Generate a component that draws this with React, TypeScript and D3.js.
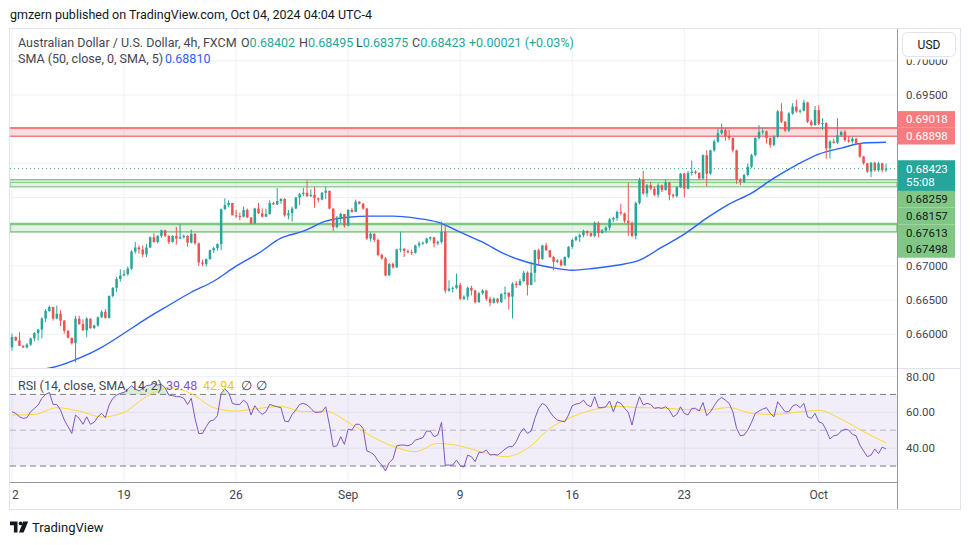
import * as d3 from 'd3';

// AUD/USD 4h candles, prices in pips (x 0.0001); open of each bar = previous close
const firstOpen = 6581;
const closes = [
  6596, 6591, 6583, 6581, 6585, 6594, 6602, 6607, 6623, 6634, 6640, 6623, 6630, 6620, 6605, 6595, 6587, 6623, 6615, 6606,
  6623, 6609, 6613, 6625, 6633, 6624, 6656, 6668, 6681, 6686, 6688, 6696, 6721, 6727, 6724, 6717, 6727, 6742, 6735, 6744,
  6752, 6744, 6735, 6744, 6740, 6742, 6744, 6734, 6747, 6733, 6705, 6703, 6710, 6723, 6726, 6732, 6783, 6789, 6792, 6774,
  6773, 6772, 6782, 6771, 6762, 6784, 6777, 6772, 6776, 6792, 6790, 6795, 6798, 6774, 6777, 6784, 6800, 6805, 6807, 6802,
  6804, 6799, 6797, 6807, 6810, 6784, 6757, 6771, 6776, 6759, 6782, 6779, 6794, 6791, 6784, 6740, 6747, 6738, 6716, 6711,
  6686, 6703, 6698, 6724, 6725, 6722, 6720, 6719, 6730, 6733, 6734, 6740, 6742, 6733, 6735, 6750, 6664, 6667, 6668, 6672,
  6652, 6655, 6668, 6664, 6647, 6660, 6664, 6652, 6646, 6652, 6647, 6659, 6661, 6655, 6674, 6672, 6678, 6690, 6672, 6690,
  6723, 6710, 6730, 6723, 6713, 6706, 6708, 6701, 6713, 6728, 6738, 6742, 6745, 6751, 6748, 6744, 6763, 6748, 6752, 6756,
  6768, 6770, 6779, 6777, 6766, 6763, 6744, 6792, 6826, 6806, 6818, 6813, 6804, 6818, 6811, 6822, 6804, 6802, 6815, 6835,
  6813, 6836, 6838, 6836, 6828, 6862, 6835, 6869, 6882, 6894, 6899, 6890, 6887, 6869, 6826, 6823, 6833, 6845, 6862, 6887,
  6896, 6897, 6887, 6877, 6889, 6926, 6911, 6898, 6923, 6933, 6926, 6927, 6939, 6911, 6906, 6928, 6908, 6909, 6872, 6882,
  6880, 6891, 6896, 6884, 6882, 6886, 6879, 6860, 6850, 6838, 6851, 6840, 6850, 6840.2, 6842.3,
];
const highs = [
  6601, 6597, 6603, 6584, 6587, 6595, 6603, 6608, 6625, 6637, 6642, 6640, 6642, 6635, 6621, 6606, 6595, 6627, 6627, 6622,
  6625, 6623, 6614, 6626, 6635, 6637, 6657, 6669, 6684, 6695, 6694, 6699, 6723, 6735, 6730, 6730, 6732, 6743, 6748, 6745,
  6753, 6753, 6745, 6745, 6757, 6761, 6746, 6745, 6753, 6748, 6734, 6709, 6711, 6724, 6728, 6733, 6784, 6799, 6796, 6792,
  6782, 6778, 6787, 6784, 6771, 6785, 6792, 6784, 6784, 6796, 6794, 6814, 6799, 6799, 6782, 6787, 6801, 6807, 6814, 6825,
  6812, 6816, 6800, 6808, 6816, 6810, 6784, 6773, 6778, 6776, 6783, 6785, 6797, 6795, 6792, 6785, 6749, 6748, 6740, 6718,
  6713, 6704, 6705, 6725, 6750, 6726, 6724, 6724, 6731, 6736, 6736, 6741, 6743, 6742, 6737, 6765, 6760, 6679, 6670, 6689,
  6675, 6657, 6670, 6671, 6665, 6662, 6666, 6665, 6655, 6654, 6653, 6660, 6670, 6661, 6676, 6678, 6681, 6693, 6692, 6706,
  6724, 6725, 6731, 6734, 6723, 6715, 6710, 6710, 6714, 6729, 6740, 6744, 6747, 6753, 6752, 6749, 6765, 6765, 6754, 6758,
  6770, 6772, 6781, 6791, 6778, 6822, 6765, 6794, 6829, 6839, 6820, 6823, 6816, 6821, 6819, 6826, 6823, 6806, 6817, 6836,
  6836, 6839, 6854, 6840, 6837, 6863, 6869, 6870, 6885, 6901, 6908, 6901, 6899, 6888, 6870, 6828, 6835, 6850, 6864, 6889,
  6906, 6902, 6898, 6888, 6891, 6928, 6938, 6912, 6925, 6938, 6943, 6929, 6943, 6940, 6914, 6934, 6935, 6916, 6910, 6884,
  6886, 6916, 6898, 6899, 6890, 6889, 6887, 6880, 6861, 6851, 6852, 6852, 6852, 6851, 6849.5,
];
const lows = [
  6576, 6590, 6583, 6580, 6579, 6583, 6590, 6591, 6594, 6618, 6633, 6620, 6622, 6612, 6601, 6594, 6585, 6559, 6614, 6605,
  6596, 6608, 6608, 6611, 6624, 6623, 6623, 6654, 6662, 6677, 6685, 6686, 6694, 6718, 6718, 6713, 6713, 6726, 6734, 6733,
  6741, 6742, 6732, 6734, 6731, 6739, 6740, 6728, 6733, 6731, 6700, 6700, 6699, 6709, 6719, 6722, 6723, 6782, 6786, 6774,
  6770, 6767, 6771, 6770, 6761, 6762, 6776, 6771, 6772, 6775, 6789, 6789, 6791, 6772, 6768, 6765, 6783, 6789, 6802, 6801,
  6801, 6785, 6793, 6796, 6798, 6783, 6751, 6755, 6762, 6756, 6758, 6778, 6779, 6790, 6782, 6738, 6736, 6735, 6714, 6709,
  6685, 6686, 6696, 6697, 6720, 6713, 6718, 6716, 6718, 6727, 6731, 6732, 6737, 6727, 6730, 6733, 6660, 6662, 6661, 6666,
  6650, 6650, 6650, 6657, 6645, 6646, 6658, 6649, 6641, 6645, 6645, 6646, 6651, 6636, 6623, 6668, 6671, 6676, 6657, 6672,
  6676, 6703, 6709, 6722, 6712, 6694, 6704, 6699, 6700, 6711, 6725, 6736, 6735, 6742, 6744, 6742, 6742, 6742, 6747, 6749,
  6752, 6764, 6766, 6774, 6763, 6744, 6742, 6739, 6790, 6804, 6801, 6811, 6802, 6800, 6808, 6810, 6796, 6799, 6800, 6814,
  6800, 6812, 6832, 6834, 6826, 6826, 6816, 6833, 6867, 6880, 6892, 6883, 6884, 6866, 6820, 6818, 6821, 6831, 6843, 6860,
  6885, 6892, 6879, 6873, 6875, 6887, 6909, 6896, 6896, 6921, 6924, 6923, 6926, 6909, 6904, 6905, 6906, 6899, 6857, 6857,
  6879, 6878, 6889, 6882, 6880, 6879, 6877, 6858, 6848, 6836, 6830, 6838, 6838, 6837, 6837.5,
];

// RSI(14) per bar, its SMA(14) and SMA(50) of price sampled once per 6 bars
const rsi = [
  60.3, 59.4, 57.5, 56.6, 57, 60.3, 62.2, 64.1, 67.8, 70, 71.1, 64.4, 64.4, 61.3, 55.7, 52, 48.2, 58.5, 56.6, 53.3,
  57.5, 53.3, 54.4, 57.5, 59.4, 57, 64.1, 67.8, 69.6, 70.6, 71.1, 73, 74.9, 73, 71.9, 73.4, 74.9, 75.2, 76.2, 75.2,
  75.6, 73.7, 69.6, 69.3, 68.7, 68.7, 67.8, 64.4, 67.8, 56.6, 48.2, 48.2, 52, 55.1, 55.7, 58.1, 70.6, 73, 71.1, 65,
  64.4, 64.4, 66.8, 65, 58.5, 63.7, 60.7, 58.8, 60.3, 64.4, 63.7, 63.1, 62.6, 55.1, 54.7, 58.8, 61.3, 64.4, 65, 64.1,
  62.2, 60, 60, 60.3, 63.1, 52.9, 40.8, 41.3, 46.4, 42.1, 50.6, 50.1, 53.3, 53.3, 51, 38.4, 37.6, 36.1, 32.8, 30.5,
  27.2, 32, 33.9, 41.3, 41.7, 41.7, 41.3, 42.1, 44.5, 45.1, 45.8, 49.5, 49.5, 46.4, 47.3, 54.4, 30.5, 30.5, 30.5, 33.3,
  30.2, 29.4, 36.1, 35.2, 32.4, 37.6, 37.6, 38.9, 36.1, 36.5, 36.1, 37.6, 39.5, 40.8, 40.8, 43.6, 48.2, 51, 48.2, 49.5,
  56.6, 62.2, 65, 63.7, 60.3, 57.5, 55.7, 55.1, 54.7, 58.5, 63.7, 64.6, 65, 66.8, 64.1, 63.1, 68.7, 62.6, 62.6, 63.1,
  66.3, 60.3, 65.9, 65, 62.2, 60, 52.9, 62.2, 68.7, 64.1, 65, 64.4, 62.2, 62.6, 62.2, 63.1, 61.3, 57.5, 58.8, 63.1,
  59.4, 58.5, 62.2, 62.2, 60.7, 65.5, 58.1, 60.3, 63.7, 66.8, 68.3, 66.8, 65, 60.3, 51, 46.9, 47.3, 50.1, 54.4, 59.4,
  60.7, 61.8, 62.6, 59.4, 57.5, 65.9, 63.1, 60.3, 60.3, 63.5, 64.4, 62.6, 65, 57.5, 56.6, 59.4, 54.7, 53.8, 50.1, 45.1,
  46.9, 47.3, 49.5, 50.6, 50.1, 47.7, 46.9, 41.7, 38.4, 35.2, 36.1, 39.5, 36.9, 40.6, 39.48,
];
const rsiMa = [
  58.5, 58.8, 62.6, 60.7, 57.4, 60, 68.9, 73.7, 70.4, 62.6, 60.7, 62.2, 63.3, 60.3, 60.7, 54.4, 46.9, 41, 38, 42.6,
  41.2, 37.6, 35.2, 39.8, 51, 57.5, 61.6, 63.3, 62.6, 62.4, 61.6, 61.3, 62.7, 59.4, 58.8, 60, 61.1, 56.2, 49.2, 42.94,
];
const sma50 = [
  6547, 6553, 6565, 6581, 6601.5, 6623, 6642.5, 6661.5, 6677.6, 6699.6, 6718.6, 6740.6, 6750.8, 6765.5, 6771.3, 6772.8,
  6772.8, 6769.9, 6764, 6749.4, 6734.7, 6717.2, 6705.4, 6698.1, 6693.7, 6696.7, 6701, 6708.4, 6727.4, 6746.5, 6769.9,
  6790.4, 6806.5, 6828.5, 6847.5, 6863.6, 6872.4, 6879.7, 6881,
];

const resistance = [0.69018, 0.68898];
const support = [0.68259, 0.68157, 0.67613, 0.67498];
const countdown = '55:08';
const timeTicks: [string, number][] = [
  ['12', 0], ['19', 30], ['26', 60], ['Sep', 90], ['9', 120], ['16', 150], ['23', 180], ['Oct', 216],
];
const priceTicks = [0.66, 0.665, 0.67, 0.675, 0.68, 0.685, 0.69, 0.695, 0.7];
const rsiTicks = [80, 60, 40];

const UP = '#26a69a';
const DOWN = '#ef5350';
const GRID = '#eef1f6';
const TXT = '#434651';
const FONT = "Roboto, 'Liberation Sans', sans-serif";

export default function App() {
  const n = closes.length;
  const opens = [firstOpen, ...closes.slice(0, -1)];
  const bars = closes.map((c, i) => {
    const o = opens[i];
    return {
      i,
      o: o / 1e4,
      c: c / 1e4,
      h: Math.max(highs[i], o, c) / 1e4,
      l: Math.min(lows[i], o, c) / 1e4,
    };
  });
  const last = bars[n - 1];

  const L = 10, R = 897, PT = 28, PB = 368, RB = 482, FB = 509;
  const x = d3.scaleLinear().domain([0, n - 1]).range([12, 886]);
  const y = d3.scaleLinear().domain([0.66, 0.695]).range([334.3, 95]);
  const yr = d3.scaleLinear().domain([30, 70]).range([466, 394.4]);

  const f5 = d3.format('.5f');
  const change = last.c - last.o;
  const pct = (change / last.o) * 100;
  const lastCol = last.c >= last.o ? UP : DOWN;

  const smaLine = d3.line<number>().x((_, i) => x(6 + i * 6)).y(d => y(d / 1e4)).curve(d3.curveMonotoneX);
  const rsiLine = d3.line<number>().x((_, i) => x(i)).y(d => yr(d));
  const maLine = d3.line<number>().x((_, i) => x(i * 6)).y(d => yr(d)).curve(d3.curveMonotoneX);
  const obArea = d3.area<number>().x((_, i) => x(i)).y0(yr(70)).y1(d => yr(Math.max(d, 70)));
  const osArea = d3.area<number>().x((_, i) => x(i)).y0(yr(30)).y1(d => yr(Math.min(d, 30)));

  // price scale labels, stacked away from the current-price label
  const LH = 16.7;
  const cur = y(last.c);
  const curTop = cur - 8.4;
  const curBottom = curTop + 30.7;
  const redLabels: { v: number; cy: number }[] = [];
  let limit = curTop;
  [...resistance].sort((a, b) => a - b).forEach(v => {
    const cy = Math.min(y(v), limit - LH / 2);
    redLabels.push({ v, cy });
    limit = cy - LH / 2;
  });
  const greenLabels: { v: number; cy: number }[] = [];
  let floor = curBottom;
  [...support].sort((a, b) => b - a).forEach(v => {
    const cy = Math.max(y(v), floor + LH / 2);
    greenLabels.push({ v, cy });
    floor = cy + LH / 2;
  });
  const boxes = [
    [limit, curTop],
    [curTop, curBottom],
    [curBottom, floor],
  ];
  const freeTicks = priceTicks.filter(p => {
    const ty = y(p);
    return !boxes.some(([a, b]) => ty + 6 > a && ty - 6 < b);
  });

  const [r1, r2] = resistance;
  const [s1, s2, s3, s4] = support;

  return (
    <div style={{ position: 'absolute', left: 0, top: 0 }}>
      <svg width={970} height={545} style={{ display: 'block', fontFamily: FONT }}>
        <defs>
          <clipPath id="pricePane"><rect x={L} y={PT} width={R - L} height={PB - PT} /></clipPath>
          <clipPath id="rsiPane"><rect x={L} y={PB} width={R - L} height={RB - PB} /></clipPath>
          <clipPath id="timeAxis"><rect x={L + 0.5} y={RB} width={R - L} height={FB - RB} /></clipPath>
        </defs>
        <rect width={970} height={545} fill="#fff" />

        <text x={10} y={14} dominantBaseline="central" fontSize={12.5} fill="#131722">
          gmzern published on TradingView.com, Oct 04, 2024 04:04 UTC-4
        </text>

        {/* grid */}
        {timeTicks.map(([t, b]) => (
          <line key={t} x1={x(b)} x2={x(b)} y1={PT} y2={RB} stroke={GRID} />
        ))}
        <g clipPath="url(#pricePane)">
          {priceTicks.map(p => (
            <line key={p} x1={L} x2={R} y1={y(p)} y2={y(p)} stroke={GRID} />
          ))}
        </g>
        {rsiTicks.map(r => (
          <line key={r} x1={L} x2={R} y1={yr(r)} y2={yr(r)} stroke={GRID} />
        ))}

        {/* price pane */}
        <g clipPath="url(#pricePane)">
          <rect x={L} y={y(r1)} width={R - L} height={y(r2) - y(r1)} fill="rgba(247,124,128,0.25)" />
          <line x1={L} x2={R} y1={y(r1)} y2={y(r1)} stroke="#f77c80" strokeWidth={2} />
          <line x1={L} x2={R} y1={y(r2)} y2={y(r2)} stroke="#f77c80" strokeWidth={1.5} />

          <line x1={L} x2={R} y1={y(s1)} y2={y(s1)} stroke="#81c784" strokeWidth={1.5} />
          <rect x={L} y={y(s1) + 2.4} width={R - L} height={y(s2) - y(s1) - 2.4} fill="rgba(129,199,132,0.22)" stroke="#81c784" strokeWidth={1.2} />
          <rect x={L} y={y(s3)} width={R - L} height={y(s4) - y(s3)} fill="rgba(129,199,132,0.22)" stroke="#81c784" strokeWidth={1.5} />
          <line x1={L} x2={R} y1={y(s3)} y2={y(s3)} stroke="#81c784" strokeWidth={2.5} />

          <path d={smaLine(sma50) ?? ''} fill="none" stroke="#2962ff" strokeWidth={1.4} />

          {bars.map(b => {
            const cx = x(b.i);
            const col = b.c >= b.o ? UP : DOWN;
            const top = y(Math.max(b.o, b.c));
            const bot = y(Math.min(b.o, b.c));
            return (
              <g key={b.i}>
                <line x1={cx} x2={cx} y1={y(b.h)} y2={y(b.l)} stroke={col} strokeWidth={1} />
                <rect x={cx - 1.25} y={top} width={2.5} height={Math.max(bot - top, 1)} fill={col} />
              </g>
            );
          })}

          <line x1={L} x2={R} y1={cur} y2={cur} stroke={UP} strokeWidth={1} strokeDasharray="1 3" />
        </g>

        {/* legend */}
        <g fontSize={12.5} dominantBaseline="central">
          <text x={18} y={42} fill={TXT}>Australian Dollar / U.S. Dollar, 4h, FXCM</text>
          <text x={241} y={42} fill={TXT}>O<tspan fill={lastCol}>{f5(last.o)}</tspan></text>
          <text x={299} y={42} fill={TXT}>H<tspan fill={lastCol}>{f5(last.h)}</tspan></text>
          <text x={356} y={42} fill={TXT}>L<tspan fill={lastCol}>{f5(last.l)}</tspan></text>
          <text x={412} y={42} fill={TXT}>C<tspan fill={lastCol}>{f5(last.c)}</tspan></text>
          <text x={469} y={42} fill={lastCol}>{`${change >= 0 ? '+' : ''}${f5(change)} (${pct >= 0 ? '+' : ''}${pct.toFixed(2)}%)`}</text>
          <text x={18} y={58} fill={TXT}>SMA (50, close, 0, SMA, 5)</text>
          <text x={165} y={58} fill="#2962ff">{f5(sma50[sma50.length - 1] / 1e4)}</text>
        </g>

        {/* RSI pane */}
        <g clipPath="url(#rsiPane)">
          <rect x={L} y={yr(70)} width={R - L} height={yr(30) - yr(70)} fill="#7e57c2" fillOpacity={0.1} />
          <path d={obArea(rsi) ?? ''} fill="rgba(76,175,80,0.22)" />
          <path d={osArea(rsi) ?? ''} fill="rgba(242,54,69,0.2)" />
          <line x1={L} x2={R} y1={yr(70)} y2={yr(70)} stroke="#787b86" strokeDasharray="6 4" />
          <line x1={L} x2={R} y1={yr(50)} y2={yr(50)} stroke="#787b86" strokeOpacity={0.5} strokeDasharray="6 4" />
          <line x1={L} x2={R} y1={yr(30)} y2={yr(30)} stroke="#787b86" strokeDasharray="6 4" />
          <path d={maLine(rsiMa) ?? ''} fill="none" stroke="#fdd835" strokeWidth={1} />
          <path d={rsiLine(rsi) ?? ''} fill="none" stroke="#7e57c2" strokeWidth={1} />
        </g>
        <g fontSize={12.5} dominantBaseline="central">
          <text x={18} y={385} fill={TXT}>RSI (14, close, SMA, 14, 2)</text>
          <text x={166} y={385} fill="#7e57c2">{rsi[n - 1].toFixed(2)}</text>
          <text x={203} y={385} fill="#f5c800">{rsiMa[rsiMa.length - 1].toFixed(2)}</text>
          <text x={241} y={385} fill={TXT}>∅</text>
          <text x={256} y={385} fill={TXT}>∅</text>
        </g>

        {/* frame and separators */}
        <line x1={L} x2={961} y1={PB + 0.5} y2={PB + 0.5} stroke="#e0e3eb" />
        <line x1={L} x2={R} y1={RB + 0.5} y2={RB + 0.5} stroke="#9598a1" />
        <line x1={R + 0.5} x2={R + 0.5} y1={PT} y2={FB} stroke="#9598a1" />
        <rect x={9.5} y={PT + 0.5} width={951} height={FB - PT} fill="none" stroke="#e0e3eb" />

        {/* price axis */}
        <g fontSize={11.5} dominantBaseline="central" fill={TXT}>
          {freeTicks.map(p => (
            <text key={p} x={906} y={y(p)}>{f5(p)}</text>
          ))}
          {rsiTicks.map(r => (
            <text key={r} x={906} y={yr(r)}>{r.toFixed(2)}</text>
          ))}
        </g>
        <rect x={898} y={PT + 1} width={62} height={30.5} fill="#fff" />
        <rect x={902.5} y={32.5} width={53} height={24} rx={5} fill="#fff" stroke="#e0e3eb" />
        <text x={929} y={45} textAnchor="middle" dominantBaseline="central" fontSize={12} fill="#131722">USD</text>

        <g fontSize={11.5} dominantBaseline="central">
          {redLabels.map(l => (
            <g key={l.v}>
              <rect x={898} y={l.cy - LH / 2} width={57} height={LH} fill="#f77c80" />
              <text x={906} y={l.cy} fill="#fff">{f5(l.v)}</text>
            </g>
          ))}
          <rect x={898} y={curTop} width={57} height={curBottom - curTop} fill={lastCol} />
          <text x={906} y={cur} fill="#fff">{f5(last.c)}</text>
          <text x={906} y={cur + 13} fill="#fff">{countdown}</text>
          {greenLabels.map(l => (
            <g key={l.v}>
              <rect x={898} y={l.cy - LH / 2} width={57} height={LH} fill="#81c784" />
              <text x={906} y={l.cy} fill="#131722">{f5(l.v)}</text>
            </g>
          ))}
        </g>

        {/* time axis */}
        <g clipPath="url(#timeAxis)" fontSize={12} fill={TXT} textAnchor="middle" dominantBaseline="central">
          {timeTicks.map(([t, b]) => (
            <text key={t} x={x(b)} y={495}>{t}</text>
          ))}
        </g>

        {/* brand */}
        <g fill="#131722">
          <path d="M10 521.5 h7.5 v11 h-3.6 v-7.3 h-3.9 z" />
          <circle cx={20.6} cy={523.4} r={1.9} />
          <path d="M23.2 521.5 h5 l-4.6 11 h-4.6 z" />
        </g>
        <text x={32} y={527} dominantBaseline="central" fontSize={13} fill="#131722">TradingView</text>
      </svg>
    </div>
  );
}
